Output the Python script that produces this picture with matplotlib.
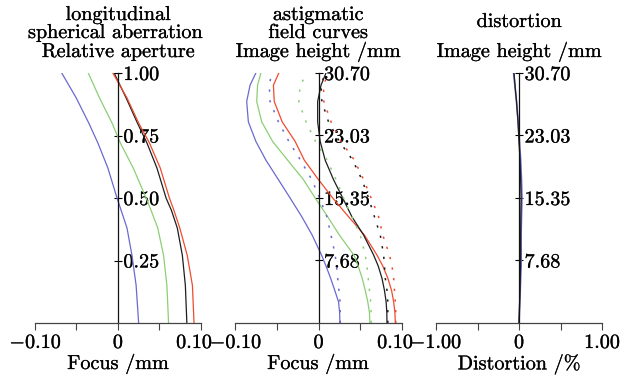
import matplotlib
matplotlib.use("Agg")
import matplotlib.pyplot as plt
import matplotlib.patheffects as pe

plt.rcParams['font.family'] = ['cmr10', 'DejaVu Serif']
plt.rcParams['mathtext.fontset'] = 'cm'
plt.rcParams['axes.formatter.use_mathtext'] = True

# colours of the four wavelengths
BLUE = '#6a6ad0'
GREEN = '#8ccf74'
RED = '#f04a30'
BLACK = '#1e1e1e'

# --- longitudinal spherical aberration (focus mm vs relative aperture) ---
aperture = [0, 0.15, 0.27, 0.38, 0.45, 0.5, 0.62, 0.72, 0.8, 0.9, 1.0]
sa_blue = [0.025, 0.022, 0.017, 0.011, 0.004, -0.001, -0.012, -0.024, -0.035, -0.050, -0.0675]
sa_green = [0.061, 0.059, 0.055, 0.048, 0.040, 0.034, 0.0185, 0.003, -0.007, -0.022, -0.0356]
sa_black = [0.083, 0.0812, 0.0776, 0.0715, 0.0645, 0.058, 0.047, 0.035, 0.0235, 0.010, -0.0045]
sa_red = [0.0916, 0.0897, 0.0835, 0.0745, 0.0675, 0.062, 0.051, 0.038, 0.025, 0.011, -0.006]
sa_ticks = [0.25, 0.50, 0.75, 1.00]
sa_ticklabels = ['0.25', '0.50', '0.75', '1.00']

# --- astigmatic field curves (focus mm vs image height mm) ---
height = [0, 1.3, 2.6, 4.0, 5.5, 7.0, 8.35, 10.8, 13.05, 15.35, 17.6, 20.0, 22.3, 24.7, 27.2, 29.2, 30.7]
fc_blue = [0.0256, 0.0253, 0.024, 0.0195, 0.0145, 0.009, 0.0036, -0.0076, -0.020, -0.034, -0.048, -0.063,
           -0.075, -0.084, -0.086, -0.082, -0.075]
fc_green = [0.0615, 0.061, 0.059, 0.056, 0.0523, 0.0475, 0.0423, 0.025, 0.011, -0.004, -0.018, -0.037,
            -0.055, -0.068, -0.074, -0.073, -0.069]
fc_red = [0.092, 0.0915, 0.090, 0.0875, 0.083, 0.077, 0.070, 0.055, 0.036, 0.017, 0.0, -0.017,
          -0.028, -0.0435, -0.053, -0.054, -0.0475]
fc_black = [0.082, 0.0818, 0.081, 0.079, 0.076, 0.0715, 0.066, 0.054, 0.040, 0.029, 0.018, 0.008,
            0.002, -0.001, -0.001, 0.003, 0.009]
fc_blue_dot = [0.026, 0.026, 0.0258, 0.0245, 0.023, 0.0215, 0.020, 0.015, 0.010, 0.0013, -0.008, -0.0216,
               -0.0355, -0.048, -0.058, -0.059, -0.056]
fc_green_dot = [0.063, 0.063, 0.0625, 0.061, 0.0595, 0.058, 0.056, 0.050, 0.040, 0.030, 0.021, 0.0104,
                -0.0036, -0.015, -0.0236, -0.022, -0.0135]
fc_red_dot = [0.0925, 0.0925, 0.092, 0.091, 0.090, 0.088, 0.085, 0.077, 0.072, 0.063, 0.054, 0.043,
              0.027, 0.015, 0.0064, 0.006, 0.012]
fc_black_dot = [0.083, 0.083, 0.083, 0.082, 0.080, 0.079, 0.078, 0.074, 0.067, 0.060, 0.052, 0.041,
                0.025, 0.012, 0.004, 0.003, 0.008]
h_ticks = [7.68, 15.35, 23.03, 30.70]
h_ticklabels = ['7.68', '15.35', '23.03', '30.70']

# --- distortion (% vs image height mm) ---
dist_blue = [0.0, 0.005, 0.01, 0.015, 0.02, 0.025, 0.025, 0.025, 0.03, 0.035, 0.03, 0.02, 0.005,
             -0.01, -0.03, -0.05, -0.065]
dist_black = [0.0, 0.004, 0.008, 0.012, 0.015, 0.018, 0.02, 0.02, 0.022, 0.025, 0.02, 0.012, 0.0,
              -0.012, -0.03, -0.048, -0.06]

FS = 14.5
STROKE = [pe.withStroke(linewidth=0.22, foreground='#111111')]

W, H = 628, 380
fig = plt.figure(figsize=(W / 100, H / 100), dpi=100)


def make_axes(x0, x1, ylim, xlim, xticks, xlabels, yticks, ylabels):
    ax = fig.add_axes([x0 / W, (H - 323) / H, (x1 - x0) / W, 250 / H])
    ax.set_xlim(*xlim)
    ax.set_ylim(*ylim)
    ax.patch.set_visible(False)
    for s in ['top', 'left']:
        ax.spines[s].set_visible(False)
    ax.spines['right'].set_position(('data', 0))
    ax.spines['right'].set_color('#111111')
    ax.spines['bottom'].set_color('#444444')
    ax.spines['right'].set_linewidth(0.9)
    ax.spines['bottom'].set_linewidth(0.9)
    ax.yaxis.tick_right()
    ax.set_yticks(yticks)
    ax.set_yticklabels(ylabels)
    ax.tick_params(axis='y', direction='inout', length=6, width=0.8, pad=1, labelsize=FS)
    for t in ax.get_yticklabels():
        t.set_path_effects(STROKE)
    ax.set_xticks(xticks)
    ax.set_xticklabels([])
    ax.tick_params(axis='x', direction='out', length=5, width=0.8, color='#444444')
    # bottom labels placed by hand; end labels are nudged inward as in the original
    for x, (s, dx) in zip(xticks, xlabels):
        if s:
            ax.annotate(s, (x, 0), xycoords=('data', 'axes fraction'), xytext=(dx, -20),
                        textcoords='offset pixels', ha='center', va='center',
                        fontsize=FS, path_effects=STROKE, annotation_clip=False)
    return ax


xt = [-0.1, -0.05, 0, 0.05, 0.1]
xl = [(r'$-$0.10', 1), ('', 0), ('0', 0), ('', 0), ('0.10', -7)]

ax1 = make_axes(34.7, 201, (0, 1.0), (-0.1, 0.1), xt, xl, sa_ticks, sa_ticklabels)
for vals, c in [(sa_blue, BLUE), (sa_green, GREEN), (sa_black, BLACK), (sa_red, RED)]:
    ax1.plot(vals, aperture, color=c, lw=0.9)

ax2 = make_axes(235, 402, (0, 30.7), (-0.1, 0.1), xt, xl, h_ticks, h_ticklabels)
for vals, c in [(fc_blue, BLUE), (fc_green, GREEN), (fc_red, RED), (fc_black, BLACK)]:
    ax2.plot(vals, height, color=c, lw=0.9)
for vals, c in [(fc_blue_dot, BLUE), (fc_green_dot, GREEN), (fc_red_dot, RED), (fc_black_dot, BLACK)]:
    ax2.plot(vals, height, color=c, lw=1.1, linestyle=(0, (1.5, 5.5)))

ax3 = make_axes(436, 602, (0, 30.7), (-1, 1), [-1, -0.5, 0, 0.5, 1],
                [(r'$-$1.00', 0), ('', 0), ('0', 0), ('', 0), ('1.00', 0)], h_ticks, h_ticklabels)
ax3.plot(dist_blue, height, color=BLUE, lw=1.2)
ax3.plot(dist_black, height, color=BLACK, lw=0.9)


# titles and axis names
def ftext(x, y, s):
    fig.text(x / W, 1 - y / H, s, ha='center', va='center', fontsize=FS, path_effects=STROKE)


ftext(118, 15, 'longitudinal')
ftext(115, 33, 'spherical aberration')
ftext(118, 52, 'Relative aperture')
ftext(318, 15, 'astigmatic')
ftext(318, 33, 'field curves')
ftext(318, 52, 'Image height /mm')
ftext(519, 22, 'distortion')
ftext(519, 52, 'Image height /mm')
ftext(118, 364, 'Focus /mm')
ftext(318, 364, 'Focus /mm')
ftext(519, 364, 'Distortion /%')

fig.savefig('out.png', dpi=100)
